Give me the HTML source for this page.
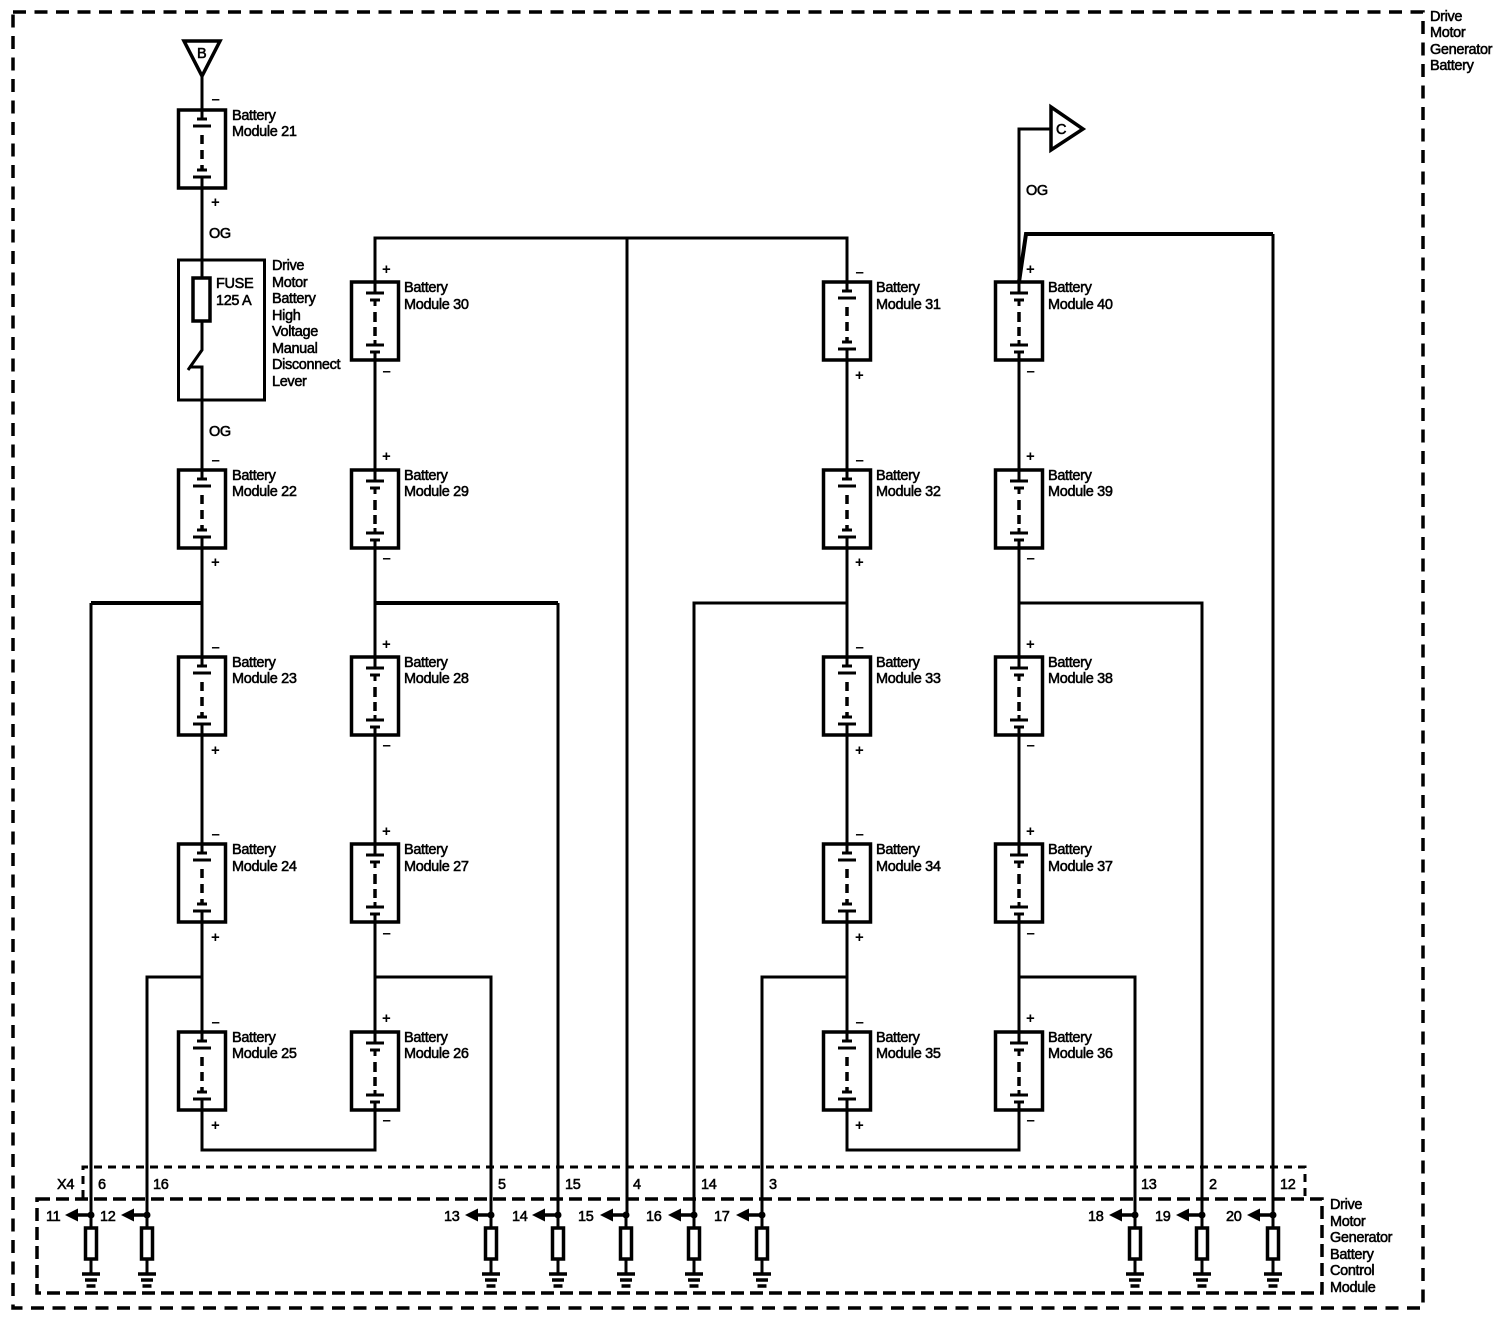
<!DOCTYPE html>
<html><head><meta charset="utf-8"><style>
html,body{margin:0;padding:0;background:#fff}
svg{display:block}
text{font-family:"Liberation Sans",sans-serif;font-size:14.5px;fill:#000;stroke:#000;stroke-width:.55;letter-spacing:-.35px}
.s{font-weight:bold;stroke-width:0;font-size:15px}
</style></head><body>
<svg xmlns="http://www.w3.org/2000/svg" width="1508" height="1328" viewBox="0 0 1508 1328">
<defs>
<g id="m" fill="none" stroke="#000">
<rect x="-23.5" y="0" width="47" height="78" stroke-width="3.5" fill="#fff"/>
<path d="M0 0V9M-5 9H5M-9 16H9M0 67V78M-5 60H5M-9 67H9" stroke-width="3"/>
<path d="M0 55V60" stroke-width="3.5"/>
<path d="M0 25V34M0 40V49" stroke-width="3.5"/>
</g>
<g id="p" fill="none" stroke="#000">
<rect x="-23.5" y="0" width="47" height="78" stroke-width="3.5" fill="#fff"/>
<path d="M0 0V11M-9 11H9M-5 18H5M0 18V24M-9 63H9M0 58V63M-5 70H5M0 70V78" stroke-width="3"/>
<path d="M0 30V40M0 45V54" stroke-width="3.5"/>
</g>
<g id="r" fill="none" stroke="#000">
<path d="M0 1215V1228M0 1259V1274" stroke-width="3"/>
<rect x="-5.5" y="1228" width="11" height="31" stroke-width="3.5" fill="#fff"/>
<path d="M-9 1274H9M-6 1280H6M-4.5 1286H4.5" stroke-width="3.5"/>
<circle cx="0" cy="1215" r="3.5" fill="#000" stroke="none"/>
<path d="M0 1215H-13" stroke-width="3.5"/>
<path d="M-13 1208.5V1221.5L-26 1215Z" fill="#000" stroke="none"/>
</g>
</defs>

<rect x="13" y="12" width="1410" height="1296" fill="none" stroke="#000" stroke-width="3.5" stroke-dasharray="13 8.5"/>
<path d="M83 1198V1167H1305V1198" fill="none" stroke="#000" stroke-width="3" stroke-dasharray="8 6"/>
<rect x="37" y="1199" width="1285" height="94" fill="none" stroke="#000" stroke-width="3.5" stroke-dasharray="13 6"/>

<g fill="none" stroke="#000" stroke-width="3">
<path d="M202 76V278M202 321V350L188 370M189 367H202V1150H375V238H847V1150H1019V129H1050"/>
<path d="M627 238V1215"/>
<path d="M375 977H491V1215M147 1215V977H202M762 1215V977H847M1019 977H1135V1215"/>
<path d="M694 1215V603H847M1019 603H1202V1215"/>
<path d="M1273 1215V234"/>
<path d="M91 603V1215"/>
<path d="M558 603V1215"/>
<path d="M91 603H202M375 603H558" stroke-width="4"/>
<path d="M1019 282L1026 234H1273" stroke-width="4"/>
<path d="M184 41H220L202 76Z" stroke-width="3.5" fill="#fff"/>
<path d="M1051 107L1083 129L1051 150Z" stroke-width="3.5" fill="#fff"/>
<rect x="178.500" y="260" width="86" height="140" stroke-width="3"/>
<rect x="193" y="278" width="17" height="43" stroke-width="3.5"/>
</g>

<use href="#m" x="202" y="110"/><use href="#m" x="202" y="470"/><use href="#m" x="202" y="657"/><use href="#m" x="202" y="844"/><use href="#m" x="202" y="1032"/>
<use href="#p" x="375" y="282"/><use href="#p" x="375" y="470"/><use href="#p" x="375" y="657"/><use href="#p" x="375" y="844"/><use href="#p" x="375" y="1032"/>
<use href="#m" x="847" y="282"/><use href="#m" x="847" y="470"/><use href="#m" x="847" y="657"/><use href="#m" x="847" y="844"/><use href="#m" x="847" y="1032"/>
<use href="#p" x="1019" y="282"/><use href="#p" x="1019" y="470"/><use href="#p" x="1019" y="657"/><use href="#p" x="1019" y="844"/><use href="#p" x="1019" y="1032"/>

<use href="#r" x="91"/><use href="#r" x="147"/><use href="#r" x="491"/><use href="#r" x="558"/><use href="#r" x="626"/><use href="#r" x="694"/><use href="#r" x="762"/><use href="#r" x="1135"/><use href="#r" x="1202"/><use href="#r" x="1273"/>

<text x="197" y="58">B</text>
<text x="1056" y="134">C</text>
<text x="209" y="238">OG</text><text x="209" y="436">OG</text><text x="1026" y="195">OG</text>
<text x="216" y="288">FUSE</text><text x="216" y="305">125 A</text>
<text x="272" y="270">Drive</text><text x="272" y="287">Motor</text><text x="272" y="303">Battery</text><text x="272" y="320">High</text><text x="272" y="336">Voltage</text><text x="272" y="353">Manual</text><text x="272" y="369">Disconnect</text><text x="272" y="386">Lever</text>
<text x="1430" y="21">Drive</text><text x="1430" y="37">Motor</text><text x="1430" y="54">Generator</text><text x="1430" y="70">Battery</text>
<text x="1330" y="1209">Drive</text><text x="1330" y="1226">Motor</text><text x="1330" y="1242">Generator</text><text x="1330" y="1259">Battery</text><text x="1330" y="1275">Control</text><text x="1330" y="1292">Module</text>

<text x="232" y="120">Battery</text><text x="232" y="136">Module 21</text>
<text x="232" y="480">Battery</text><text x="232" y="496">Module 22</text>
<text x="232" y="667">Battery</text><text x="232" y="683">Module 23</text>
<text x="232" y="854">Battery</text><text x="232" y="871">Module 24</text>
<text x="232" y="1042">Battery</text><text x="232" y="1058">Module 25</text>
<text x="404" y="292">Battery</text><text x="404" y="309">Module 30</text>
<text x="404" y="480">Battery</text><text x="404" y="496">Module 29</text>
<text x="404" y="667">Battery</text><text x="404" y="683">Module 28</text>
<text x="404" y="854">Battery</text><text x="404" y="871">Module 27</text>
<text x="404" y="1042">Battery</text><text x="404" y="1058">Module 26</text>
<text x="876" y="292">Battery</text><text x="876" y="309">Module 31</text>
<text x="876" y="480">Battery</text><text x="876" y="496">Module 32</text>
<text x="876" y="667">Battery</text><text x="876" y="683">Module 33</text>
<text x="876" y="854">Battery</text><text x="876" y="871">Module 34</text>
<text x="876" y="1042">Battery</text><text x="876" y="1058">Module 35</text>
<text x="1048" y="292">Battery</text><text x="1048" y="309">Module 40</text>
<text x="1048" y="480">Battery</text><text x="1048" y="496">Module 39</text>
<text x="1048" y="667">Battery</text><text x="1048" y="683">Module 38</text>
<text x="1048" y="854">Battery</text><text x="1048" y="871">Module 37</text>
<text x="1048" y="1042">Battery</text><text x="1048" y="1058">Module 36</text>

<g>
<text class="s" x="211.500" y="104">–</text><text class="s" x="211" y="207">+</text>
<text class="s" x="211.500" y="465">–</text><text class="s" x="211" y="567">+</text>
<text class="s" x="211.500" y="652">–</text><text class="s" x="211" y="755">+</text>
<text class="s" x="211.500" y="839">–</text><text class="s" x="211" y="942">+</text>
<text class="s" x="211.500" y="1027">–</text><text class="s" x="211" y="1130">+</text>
<text class="s" x="382" y="274">+</text><text class="s" x="382.500" y="376">–</text>
<text class="s" x="382" y="461">+</text><text class="s" x="382.500" y="563">–</text>
<text class="s" x="382" y="649">+</text><text class="s" x="382.500" y="750">–</text>
<text class="s" x="382" y="836">+</text><text class="s" x="382.500" y="938">–</text>
<text class="s" x="382" y="1023">+</text><text class="s" x="382.500" y="1125">–</text>
<text class="s" x="855.500" y="277">–</text><text class="s" x="855" y="380">+</text>
<text class="s" x="855.500" y="465">–</text><text class="s" x="855" y="567">+</text>
<text class="s" x="855.500" y="652">–</text><text class="s" x="855" y="755">+</text>
<text class="s" x="855.500" y="839">–</text><text class="s" x="855" y="942">+</text>
<text class="s" x="855.500" y="1027">–</text><text class="s" x="855" y="1130">+</text>
<text class="s" x="1026" y="274">+</text><text class="s" x="1026.500" y="376">–</text>
<text class="s" x="1026" y="461">+</text><text class="s" x="1026.500" y="563">–</text>
<text class="s" x="1026" y="649">+</text><text class="s" x="1026.500" y="750">–</text>
<text class="s" x="1026" y="836">+</text><text class="s" x="1026.500" y="938">–</text>
<text class="s" x="1026" y="1023">+</text><text class="s" x="1026.500" y="1125">–</text>
</g>

<text x="57" y="1189">X4</text>
<text x="98" y="1189">6</text><text x="153" y="1189">16</text><text x="498" y="1189">5</text><text x="565" y="1189">15</text><text x="633" y="1189">4</text><text x="701" y="1189">14</text><text x="769" y="1189">3</text><text x="1141" y="1189">13</text><text x="1209" y="1189">2</text><text x="1280" y="1189">12</text>
<text x="46" y="1221">11</text><text x="100" y="1221">12</text><text x="444" y="1221">13</text><text x="512" y="1221">14</text><text x="578" y="1221">15</text><text x="646" y="1221">16</text><text x="714" y="1221">17</text><text x="1088" y="1221">18</text><text x="1155" y="1221">19</text><text x="1226" y="1221">20</text>
</svg>
</body></html>
